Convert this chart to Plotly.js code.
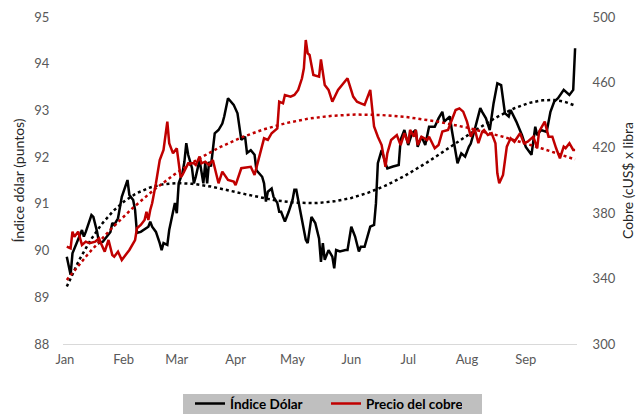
<!DOCTYPE html>
<html>
<head>
<meta charset="utf-8">
<script src="https://cdn.plot.ly/plotly-3.0.1.min.js"></script>
<style>html,body{margin:0;padding:0;background:#fff;}#chart{width:644px;height:414px;}</style>
</head>
<body>
<div id="chart"></div>
<script>
// Days after 1 Jan 2021 and values
const dolarDays = [
  1,3,4,7,9,10,11,14,15,17,
  18,20,22,24,25,26,28,30,33,34,
  36,37,38,40,44,45,46,48,50,51,
  52,54,55,57,58,59,60,62,63,64,
  65,67,68,69,71,73,74,75,76,77,
  79,81,83,84,86,89,91,93,95,96,
  98,100,101,104,105,106,107,109,110,112,
  113,114,116,118,120,121,122,124,127,128,
  130,132,134,135,136,137,139,141,142,143,
  145,148,149,151,153,155,156,158,160,161,
  163,164,165,166,167,169,170,173,176,177,
  179,181,183,185,186,188,190,192,193,195,
  197,199,200,202,203,204,206,207,209,211,
  213,214,216,219,220,222,224,226,228,230,
  232,234,235,238,241,243,246,248,249,251,
  254,256,258,260,263,266,268,269
];
const dolarValues = [
  89.87,89.48,89.94,90.23,90.44,90.3,90.4,90.76,90.72,90.4,
  90.16,90.19,90.3,90.4,90.59,90.55,90.69,91.15,91.51,91.19,
  91.08,90.87,90.38,90.4,90.51,90.62,90.51,90.4,90.16,90.01,
  90.16,90.12,90.44,90.87,91.02,90.8,91.44,91.66,91.9,92.3,
  92.05,91.77,91.44,91.58,91.94,91.44,91.87,91.44,91.9,91.8,
  92.51,92.58,92.72,92.87,93.26,93.12,92.94,92.37,92.44,92.09,
  92.15,92.05,91.72,91.58,91.44,91.05,91.26,91.33,91.15,91.02,
  90.83,90.83,90.62,90.83,91.08,91.3,91.3,90.87,90.23,90.16,
  90.72,90.59,90.26,89.76,90.16,89.8,90.01,89.87,89.62,90.01,
  89.98,90.01,90.01,90.51,90.3,89.98,90.08,90.08,90.37,90.51,
  90.55,91.01,91.87,92.01,92.15,91.87,91.76,91.8,91.83,92.37,
  92.58,92.26,92.51,92.58,92.22,92.44,92.26,92.65,92.65,92.65,
  92.83,92.97,92.76,92.83,92.87,92.58,92.15,91.87,92.08,92.01,
  92.22,92.29,92.58,93.05,92.97,92.83,92.58,93.15,93.58,93.54,
  92.94,92.87,93.01,92.76,92.47,92.22,92.05,92.65,92.47,92.58,
  92.54,92.97,93.19,93.26,93.44,93.33,93.44,94.33
];
const cobreDays = [
  1,3,4,5,7,9,11,13,16,18,
  19,21,23,25,26,28,30,32,34,37,
  38,40,42,43,44,45,46,48,50,52,
  54,55,57,59,61,62,65,68,69,71,
  72,74,76,78,81,83,86,89,90,93,
  97,98,100,103,105,107,109,112,113,115,
  116,119,121,123,125,126,127,128,129,131,
  134,135,137,139,141,144,147,149,152,154,
  156,158,161,163,165,167,169,170,172,175,
  177,179,181,182,184,185,186,188,191,192,
  195,197,199,202,204,206,208,210,212,214,
  216,218,220,221,223,225,227,228,229,231,
  233,235,237,240,242,244,247,249,250,253,
  255,257,259,261,263,264,266,268,269
];
const cobreValues = [
  359.5,358.5,368.7,365.6,368.7,360.6,362.6,361.6,362.6,364.6,
  361.6,356.5,363.6,354.4,353.4,356.5,351.4,354.4,357.5,363.6,
  370.8,372.8,375.8,380.9,375.8,382.0,386.1,398.3,412.5,418.7,
  436.0,422.8,416.6,419.7,402,403.4,410.5,410.5,409.5,414.6,
  410.5,411.5,409.5,412.5,398.3,405.4,400.3,399.3,397.2,407.5,
  408.4,408.4,403.4,416.6,425.8,424.8,428.9,431.9,448.2,447.2,
  452.3,451.3,452.3,455.4,462.5,468.6,485.9,477.8,476.8,464.5,
  463.5,474.1,458.4,455.4,448.2,455.4,459.5,462.5,451.3,448.2,
  447.2,446.2,455.4,433,426.8,421.7,408.4,416.6,424.8,427.8,
  421.7,428.9,422.8,430.9,426.8,430.9,421.7,426.8,424.8,426.8,
  419.7,421.7,429.9,430.9,437,443.1,444.1,442.1,436,426.8,
  431.9,422.8,429.9,430.9,427.8,428.9,422.8,404.4,398.3,403.4,
  420.7,425.8,423.7,428.9,422.8,423.7,426.8,419.7,429.9,436,
  426.8,426.8,419.7,413.6,420.7,419.7,422.8,418.7,418.7
];
const seriesNames = ['Índice Dólar', 'Precio del cobre'];
const leftTitle = 'Índice dólar (puntos)';
const rightTitle = 'Cobre (cUS$ x libra';

function toDate(d) {
  return new Date(Date.UTC(2021, 0, 1) + d * 86400000).toISOString().slice(0, 10);
}
// least-squares polynomial fit (like a spreadsheet polynomial trendline)
function polyFit(xs, ys, order) {
  const s = 270;
  const n = order + 1;
  const A = Array.from({length: n}, () => new Array(n + 1).fill(0));
  for (let k = 0; k < xs.length; k++) {
    const t = xs[k] / s;
    for (let i = 0; i < n; i++) {
      for (let j = 0; j < n; j++) A[i][j] += Math.pow(t, i + j);
      A[i][n] += ys[k] * Math.pow(t, i);
    }
  }
  for (let i = 0; i < n; i++) {
    let p = i;
    for (let r = i + 1; r < n; r++) if (Math.abs(A[r][i]) > Math.abs(A[p][i])) p = r;
    [A[i], A[p]] = [A[p], A[i]];
    for (let r = 0; r < n; r++) {
      if (r === i) continue;
      const f = A[r][i] / A[i][i];
      for (let c = i; c <= n; c++) A[r][c] -= f * A[i][c];
    }
  }
  const coef = A.map((row, i) => row[n] / row[i]);
  return x => coef.reduce((acc, c, i) => acc + c * Math.pow(x / s, i), 0);
}
function trend(xs, ys, order) {
  const f = polyFit(xs, ys, order);
  const lo = Math.min(...xs), hi = Math.max(...xs);
  const tx = [], ty = [];
  for (let d = lo; d <= hi; d += 1) { tx.push(toDate(d)); ty.push(f(d)); }
  return {x: tx, y: ty};
}

const dolarTrend = trend(dolarDays, dolarValues, 4);
const cobreTrend = trend(cobreDays, cobreValues, 3);

const red = '#C00000';
const traces = [
  {x: dolarDays.map(toDate), y: dolarValues, name: seriesNames[0], type: 'scatter', mode: 'lines',
   line: {color: '#000000', width: 2.5}, yaxis: 'y'},
  {x: dolarTrend.x, y: dolarTrend.y, type: 'scatter', mode: 'lines', showlegend: false, hoverinfo: 'skip',
   line: {color: '#000000', width: 2.5, dash: 'dot'}, yaxis: 'y'},
  {x: cobreDays.map(toDate), y: cobreValues, name: seriesNames[1], type: 'scatter', mode: 'lines',
   line: {color: red, width: 2.5}, yaxis: 'y2'},
  {x: cobreTrend.x, y: cobreTrend.y, type: 'scatter', mode: 'lines', showlegend: false, hoverinfo: 'skip',
   line: {color: red, width: 2.5, dash: 'dot'}, yaxis: 'y2'}
];

const tickFont = {family: 'Lato, sans-serif', size: 13, color: '#595959'};
const layout = {
  width: 644, height: 414,
  margin: {l: 63, r: 67, t: 17, b: 70},
  paper_bgcolor: '#ffffff', plot_bgcolor: '#ffffff',
  font: {family: 'Lato, sans-serif', size: 13, color: '#595959'},
  showlegend: true,
  xaxis: {
    type: 'date', range: ['2020-12-31', '2021-09-28'],
    tick0: '2021-01-01', dtick: 'M1', tickformat: '%b',
    showgrid: false, zeroline: false, showline: true, linecolor: '#D9D9D9', linewidth: 1,
    ticks: 'outside', ticklen: 3, tickcolor: 'rgba(0,0,0,0)', tickfont: tickFont
  },
  yaxis: {
    range: [88, 95], tick0: 88, dtick: 1, showgrid: false, zeroline: false, showline: false,
    ticks: 'outside', ticklen: 10, tickcolor: 'rgba(0,0,0,0)', tickfont: tickFont,
    title: {text: leftTitle, font: {family: 'Lato, sans-serif', size: 14, color: '#262626'}, standoff: 6}
  },
  yaxis2: {
    range: [300, 500], tick0: 300, dtick: 40, overlaying: 'y', side: 'right',
    showgrid: false, zeroline: false, showline: false,
    ticks: 'outside', ticklen: 12, tickcolor: 'rgba(0,0,0,0)', tickfont: tickFont,
    title: {text: rightTitle, font: {family: 'Lato, sans-serif', size: 14, color: '#262626'}, standoff: 8}
  },
  shapes: [{
    type: 'rect', xref: 'paper', yref: 'paper', layer: 'below',
    x0: (183 - 63) / 514, x1: (482 - 63) / 514, y0: (344 - 394) / 327, y1: (344 - 420) / 327,
    fillcolor: '#BFBFBF', line: {width: 0}
  }],
  legend: {
    orientation: 'h', xref: 'container', yref: 'container',
    x: 190 / 644, xanchor: 'left', y: 0.062, yanchor: 'top',
    bgcolor: 'rgba(0,0,0,0)', borderwidth: 0,
    entrywidth: 91, entrywidthmode: 'pixels',
    font: {family: 'Lato, sans-serif', size: 13.5, color: '#000000', weight: 'bold'}
  }
};

Plotly.newPlot('chart', traces, layout, {staticPlot: true, displayModeBar: false});
</script>
</body>
</html>
